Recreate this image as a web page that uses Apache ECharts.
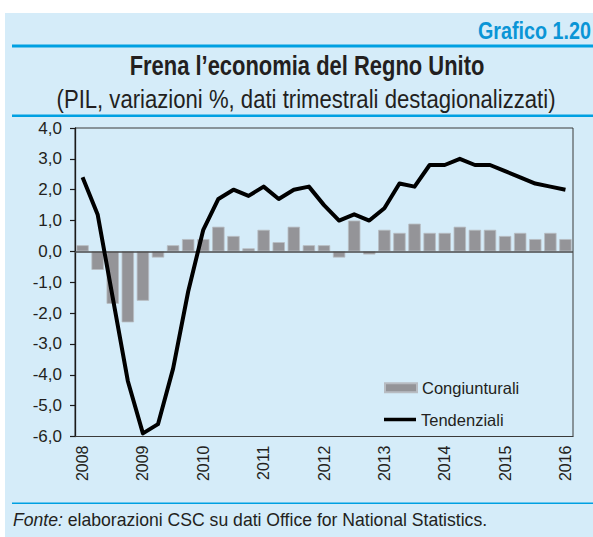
<!DOCTYPE html>
<html>
<head>
<meta charset="utf-8">
<script src="https://cdn.jsdelivr.net/npm/echarts@6/dist/echarts.min.js"></script>
<style>
  html, body { margin: 0; padding: 0; background: #ffffff; }
  #chart { width: 593px; height: 537px; }
</style>
</head>
<body>
<div id="chart"></div>
<script>
// Years shown on the time axis (one label per first quarter)
const years = ['2008', '2009', '2010', '2011', '2012', '2013', '2014', '2015', '2016'];

// Quarterly GDP growth, quarter on quarter (%)
const congiunturali = [
  0.2, -0.6, -1.7, -2.3,
  -1.6, -0.2, 0.2, 0.4,
  0.4, 0.8, 0.5, 0.1,
  0.7, 0.3, 0.8, 0.2,
  0.2, -0.2, 1.0, -0.1,
  0.7, 0.6, 0.9, 0.6,
  0.6, 0.8, 0.7, 0.7,
  0.5, 0.6, 0.4, 0.6,
  0.4
];

// Quarterly GDP growth, year on year (%)
const tendenziali = [
  2.4, 1.2, -1.5, -4.2,
  -5.9, -5.6, -3.8, -1.3,
  0.7, 1.7, 2.0, 1.8,
  2.1, 1.7, 2.0, 2.1,
  1.5, 1.0, 1.2, 1.0,
  1.4, 2.2, 2.1, 2.8,
  2.8, 3.0, 2.8, 2.8,
  2.6, 2.4, 2.2, 2.1,
  2.0
];

const yMin = -6, yMax = 4, yStep = 1;

// Quarter categories: 2008 T1 ... 2016 T1
const quarters = [];
years.forEach(function (y, i) {
  const last = i === years.length - 1;
  for (let q = 1; q <= (last ? 1 : 4); q++) quarters.push(y + ' T' + q);
});

const FONT = '"Liberation Sans", Arial, Helvetica, sans-serif';
const INK = '#231f20';
const BLUE = '#00a0e2';

// Horizontal squeeze so a string spans a given width (condensed look)
const measureCtx = document.createElement('canvas').getContext('2d');
function textWidth(text, size, weight, style) {
  measureCtx.font = (style || 'normal') + ' ' + (weight || 'normal') + ' ' + size + 'px ' + FONT;
  return measureCtx.measureText(text).width;
}
function squeeze(width, target) { return target / width; }

const badgeText = 'Grafico 1.20';
const titleText = 'Frena l\u2019economia del Regno Unito';
const subtitleText = '(PIL, variazioni %, dati trimestrali destagionalizzati)';
const sourceLead = 'Fonte:';
const sourceText = ' elaborazioni CSC su dati Office for National Statistics.';

const badgeScale = squeeze(textWidth(badgeText, 23, 'bold'), 113);
const titleScale = squeeze(textWidth(titleText, 28, 'bold'), 355);
const subtitleScale = squeeze(textWidth(subtitleText, 25), 499);
const sourceScale = squeeze(textWidth(sourceLead, 18, 'normal', 'italic') + textWidth(sourceText, 18), 474);

const chart = echarts.init(document.getElementById('chart'), null, { renderer: 'svg' });

chart.setOption({
  backgroundColor: '#ffffff',
  animation: false,
  textStyle: { fontFamily: FONT, color: INK },
  grid: {
    left: 75, right: 20, top: 128, bottom: 100.5,
    show: true, borderColor: '#3a3a3a', borderWidth: 1, backgroundColor: 'transparent'
  },
  graphic: [
    { type: 'rect', z: -10, shape: { x: 5, y: 13, width: 588, height: 524 }, style: { fill: '#d5ecf9' } },
    { type: 'rect', shape: { x: 12, y: 44.5, width: 581, height: 3 }, style: { fill: BLUE } },
    { type: 'rect', shape: { x: 12, y: 114.5, width: 581, height: 2.5 }, style: { fill: BLUE } },
    { type: 'rect', shape: { x: 12, y: 502.5, width: 581, height: 1.5 }, style: { fill: BLUE } },
    {
      type: 'text', x: 478, y: 31, scaleX: badgeScale,
      style: { text: badgeText, fontFamily: FONT, fontWeight: 'bold', fontSize: 23,
               fill: '#0a95d6', textAlign: 'left', textVerticalAlign: 'middle' }
    },
    {
      type: 'text', x: 307, y: 65, scaleX: titleScale,
      style: { text: titleText, fontFamily: FONT, fontWeight: 'bold', fontSize: 28,
               fill: INK, textAlign: 'center', textVerticalAlign: 'middle' }
    },
    {
      type: 'text', x: 306, y: 99.5, scaleX: subtitleScale,
      style: { text: subtitleText, fontFamily: FONT, fontSize: 25,
               fill: INK, textAlign: 'center', textVerticalAlign: 'middle' }
    },
    {
      type: 'text', x: 13, y: 519.5, scaleX: sourceScale,
      style: {
        text: '{i|' + sourceLead + '}{r|' + sourceText + '}',
        fontFamily: FONT, fontSize: 18, fill: INK, textAlign: 'left', textVerticalAlign: 'middle',
        rich: {
          i: { fontFamily: FONT, fontSize: 18, fontStyle: 'italic', fill: INK },
          r: { fontFamily: FONT, fontSize: 18, fill: INK }
        }
      }
    }
  ],
  legend: [
    {
      data: [{ name: 'Congiunturali', icon: 'rect' }],
      left: 384, top: 378.7, padding: 0, orient: 'vertical',
      itemWidth: 32, itemHeight: 9, selectedMode: false,
      textStyle: { fontFamily: FONT, fontSize: 16.5, color: INK, lineHeight: 18 }
    },
    {
      data: [{ name: 'Tendenziali', icon: 'rect', itemStyle: { color: '#000000' } }],
      left: 384, top: 410.5, padding: 0, orient: 'vertical',
      itemWidth: 32, itemHeight: 3.5, selectedMode: false,
      textStyle: { fontFamily: FONT, fontSize: 16.5, color: INK, lineHeight: 18 }
    }
  ],
  xAxis: {
    type: 'category',
    data: quarters,
    boundaryGap: true,
    axisLine: { onZero: false, lineStyle: { color: '#3a3a3a', width: 1.2 } },
    axisTick: { show: false },
    axisLabel: {
      interval: 3, rotate: 90, margin: 9,
      fontFamily: FONT, fontSize: 16, color: INK,
      formatter: function (v) { return v.split(' ')[0]; }
    },
    splitLine: { show: false }
  },
  yAxis: {
    type: 'value',
    min: yMin, max: yMax, interval: yStep,
    axisLine: { show: true, lineStyle: { color: '#1a1a1a', width: 1.3 } },
    axisTick: { show: true, inside: false, length: 5, lineStyle: { color: '#1a1a1a', width: 1.2 } },
    axisLabel: {
      margin: 13, fontFamily: FONT, fontSize: 17, color: INK,
      formatter: function (v) { return v.toFixed(1).replace('.', ','); }
    },
    splitLine: { show: false }
  },
  series: [
    {
      name: 'Congiunturali',
      type: 'bar',
      data: congiunturali,
      barCategoryGap: '18%',
      itemStyle: { color: '#949498', borderColor: '#b8bcc2', borderWidth: 0.8 },
      z: 2,
      markLine: {
        silent: true, symbol: 'none', label: { show: false },
        lineStyle: { color: '#4a4a4a', width: 1.5, type: 'solid' },
        data: [{ yAxis: 0 }]
      }
    },
    {
      name: 'Tendenziali',
      type: 'line',
      data: tendenziali,
      symbol: 'none',
      z: 10,
      lineStyle: { color: '#000000', width: 4, join: 'round' },
      itemStyle: { color: '#000000' }
    }
  ]
});
</script>
</body>
</html>
